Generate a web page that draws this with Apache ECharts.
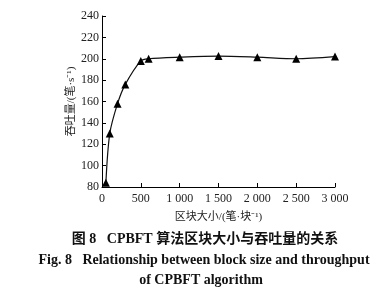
<!DOCTYPE html>
<html><head><meta charset="utf-8">
<script src="https://cdn.jsdelivr.net/npm/echarts@6/dist/echarts.min.js"></script>
<style>html,body{margin:0;padding:0;background:#fff}#c{width:390px;height:300px}</style>
</head><body><div id="c"></div>
<script>
const blockSizes = [50, 100, 200, 300, 500, 600, 1000, 1500, 2000, 2500, 3000];
const throughput = [84, 130, 158, 176, 198, 200, 201.5, 202.5, 201.5, 200, 202];
const yTicks = [80, 100, 120, 140, 160, 180, 200, 220, 240];
const xTicks = [0, 500, 1000, 1500, 2000, 2500, 3000];

const serif = '"Liberation Serif", "Noto Sans CJK SC", serif';
const chart = echarts.init(document.getElementById('c'));
function fmtX(v){ return v >= 1000 ? Math.floor(v/1000) + ' ' + String(v%1000).padStart(3,'0') : String(v); }
chart.setOption({
  backgroundColor: '#fff',
  animation: false,
  grid: {left: 102, right: 55, top: 16, bottom: 113},
  xAxis: {
    type: 'value', min: xTicks[0], max: xTicks[xTicks.length-1], interval: 500,
    name: '区块大小/(笔·块⁻¹)', nameLocation: 'middle', nameGap: 25,
    nameTextStyle: {fontFamily: serif, fontSize: 11, color: '#222'},
    axisLine: {lineStyle: {color: '#000', width: 1}},
    axisTick: {inside: true, length: 4, lineStyle: {color: '#000'}},
    axisLabel: {fontFamily: serif, fontSize: 12, color: '#222', margin: 6, formatter: fmtX},
    splitLine: {show: false}
  },
  yAxis: {
    type: 'value', min: yTicks[0], max: yTicks[yTicks.length-1], interval: 20,
    name: '吞吐量/(笔·s⁻¹)', nameLocation: 'middle', nameGap: 25, nameMoveOverlap: false,
    nameTextStyle: {fontFamily: serif, fontSize: 11, color: '#222'},
    axisLine: {show: true, lineStyle: {color: '#000', width: 1}},
    axisTick: {show: true, inside: true, length: 4, lineStyle: {color: '#000'}},
    axisLabel: {fontFamily: serif, fontSize: 12, color: '#222', margin: 3},
    splitLine: {show: false}
  },
  series: [{
    type: 'line',
    data: blockSizes.map((x, i) => [x, throughput[i]]),
    smooth: 0.3,
    symbol: 'triangle', symbolSize: 8,
    lineStyle: {color: '#111', width: 1.2},
    itemStyle: {color: '#000'}
  }],
  graphic: [
    {type: 'text', x: 205, y: 239, style: {text: '图 8   CPBFT 算法区块大小与吞吐量的关系', align: 'center', verticalAlign: 'middle', font: 'bold 14px "Liberation Serif", "Noto Sans CJK SC"', fill: '#111'}},
    {type: 'text', x: 204, y: 260, style: {text: 'Fig. 8   Relationship between block size and throughput', align: 'center', verticalAlign: 'middle', font: 'bold 14px "Liberation Serif", serif', fill: '#111'}},
    {type: 'text', x: 201, y: 280, style: {text: 'of CPBFT algorithm', align: 'center', verticalAlign: 'middle', font: 'bold 14px "Liberation Serif", serif', fill: '#111'}}
  ]
});
</script></body></html>
